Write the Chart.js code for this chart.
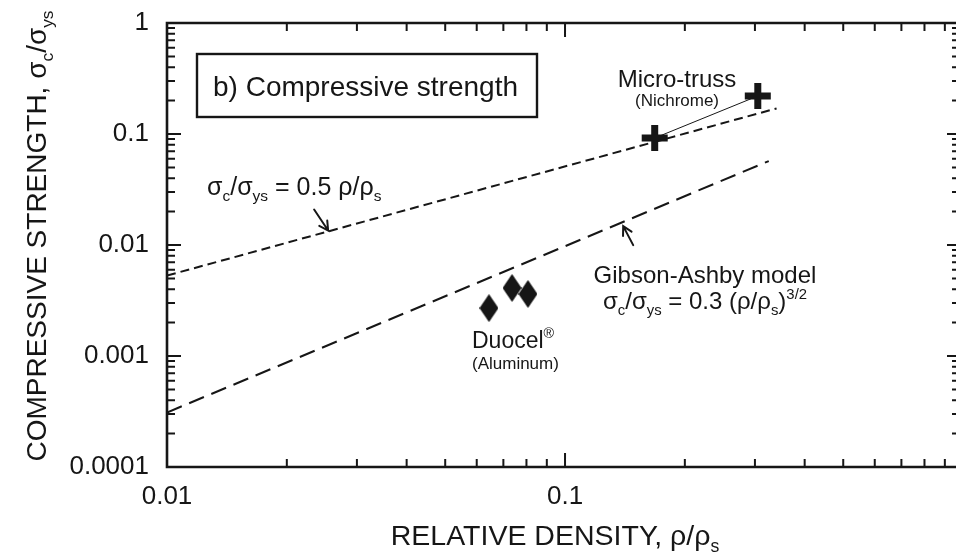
<!DOCTYPE html>
<html><head><meta charset="utf-8">
<script src="https://cdn.jsdelivr.net/npm/chart.js@4/dist/chart.umd.min.js"></script>
<style>html,body{margin:0;padding:0;background:#fff;overflow:hidden}canvas{display:block}</style>
</head><body>
<canvas id="c" width="956" height="552" style="width:956px;height:552px"></canvas>
<script>
// ---- data ----
const xTickValues = [0.01, 0.1];
const xTickLabels = ['0.01', '0.1'];
const yTickValues = [0.0001, 0.001, 0.01, 0.1, 1];
const yTickLabels = ['0.0001', '0.001', '0.01', '0.1', '1'];
const xMin = 0.01, xMax = 0.96, yMin = 0.0001, yMax = 1;
const linearModelX = [0.01, 0.34];
const linearModelY = [0.0053, 0.17];
const gibsonModelX = [0.01, 0.325];
const gibsonModelY = [0.00031, 0.057];
const microTrussX = [0.168, 0.305];
const microTrussY = [0.092, 0.22];
const duocelX = [0.0644, 0.0736, 0.0807];
const duocelY = [0.0027, 0.0041, 0.00362];
const arrow1Tip = [0.0254, 0.0135];
const arrow2Tip = [0.14, 0.0148];

const INK = '#161616';
const FONT = '"Liberation Sans", Arial, Helvetica, sans-serif';
const pts = (xs, ys) => xs.map((x, i) => ({x, y: ys[i]}));

function makeDiamond(w, h) {
  const c = document.createElement('canvas');
  c.width = w; c.height = h;
  const g = c.getContext('2d');
  g.fillStyle = INK;
  g.beginPath();
  g.moveTo(w / 2, 0); g.lineTo(w, h / 2); g.lineTo(w / 2, h); g.lineTo(0, h / 2);
  g.closePath(); g.fill();
  return c;
}
const diamond = makeDiamond(19, 28);

function richWidth(ctx, segs, size) {
  let w = 0;
  for (const [t, m] of segs) {
    const s = m ? size * 0.62 : size;
    ctx.font = s + 'px ' + FONT;
    w += ctx.measureText(t).width;
  }
  return w;
}
function drawRich(ctx, segs, x, y, size, align) {
  const w = richWidth(ctx, segs, size);
  let cx = align === 'center' ? x - w / 2 : (align === 'right' ? x - w : x);
  ctx.textBaseline = 'alphabetic';
  ctx.textAlign = 'left';
  ctx.fillStyle = INK;
  for (const [t, m] of segs) {
    const s = m ? size * 0.62 : size;
    ctx.font = s + 'px ' + FONT;
    const dy = m === 'sub' ? size * 0.25 : (m === 'sup' ? -size * 0.42 : 0);
    ctx.fillText(t, cx, y + dy);
    cx += ctx.measureText(t).width;
  }
}

const framePlugin = {
  id: 'frame',
  beforeDatasetsDraw(chart) {
    const ctx = chart.ctx, a = chart.chartArea;
    const xs = chart.scales.x, ys = chart.scales.y;
    ctx.save();
    ctx.strokeStyle = INK;
    ctx.lineWidth = 2.6;
    ctx.lineCap = 'square';
    ctx.beginPath();
    ctx.moveTo(a.right + 2, a.top); ctx.lineTo(a.left, a.top);
    ctx.lineTo(a.left, a.bottom); ctx.lineTo(a.right + 2, a.bottom);
    ctx.stroke();
    ctx.lineCap = 'butt';
    ctx.lineWidth = 2;
    ctx.beginPath();
    for (let d = -2; d <= 0; d++) {
      for (let k = 1; k <= 9; k++) {
        const v = k * Math.pow(10, d);
        if (v < xMin * 0.999 || v > xMax) continue;
        const p = xs.getPixelForValue(v);
        const L = k === 1 ? 14 : 8;
        ctx.moveTo(p, a.bottom); ctx.lineTo(p, a.bottom - L);
        ctx.moveTo(p, a.top); ctx.lineTo(p, a.top + L);
      }
    }
    for (let d = -4; d <= 0; d++) {
      for (let k = 1; k <= 9; k++) {
        const v = k * Math.pow(10, d);
        if (v < yMin * 0.999 || v > yMax * 1.001) continue;
        const p = ys.getPixelForValue(v);
        const L = k === 1 ? 14 : 8;
        ctx.moveTo(a.left, p); ctx.lineTo(a.left + L, p);
        ctx.moveTo(a.right, p); ctx.lineTo(a.right - (k === 1 ? 9 : 4), p);
      }
    }
    ctx.stroke();
    ctx.restore();
  },
  afterDatasetsDraw(chart) {
    const ctx = chart.ctx, a = chart.chartArea;
    const xs = chart.scales.x, ys = chart.scales.y;
    ctx.save();
    // title box
    ctx.strokeStyle = INK; ctx.lineWidth = 2.4;
    ctx.strokeRect(a.left + 30, a.top + 31, 340, 63);
    drawRich(ctx, [['b) Compressive strength']], a.left + 46, a.top + 73, 28, 'left');
    // Micro-truss labels
    drawRich(ctx, [['Micro-truss']], 677, 87, 24, 'center');
    drawRich(ctx, [['(Nichrome)']], 677, 106, 17, 'center');
    // formula 1
    drawRich(ctx, [['σ'], ['c', 'sub'], ['/σ'], ['ys', 'sub'], [' = 0.5 ρ/ρ'], ['s', 'sub']], 207, 195, 25, 'left');
    // Gibson-Ashby
    drawRich(ctx, [['Gibson-Ashby model']], 705, 283, 24, 'center');
    drawRich(ctx, [['σ'], ['c', 'sub'], ['/σ'], ['ys', 'sub'], [' = 0.3 (ρ/ρ'], ['s', 'sub'], [')'], ['3/2', 'sup']], 705, 309, 24, 'center');
    // Duocel
    drawRich(ctx, [['Duocel'], ['®', 'sup']], 472, 348, 23, 'left');
    drawRich(ctx, [['(Aluminum)']], 472, 369, 17, 'left');
    // arrows
    function arrow(tip, dx, dy) {
      const tx = xs.getPixelForValue(tip[0]), ty = ys.getPixelForValue(tip[1]);
      const sx = tx + dx, sy = ty + dy;
      const ang = Math.atan2(ty - sy, tx - sx);
      ctx.strokeStyle = INK; ctx.lineWidth = 2; ctx.lineCap = 'round';
      ctx.beginPath();
      ctx.moveTo(sx, sy); ctx.lineTo(tx, ty);
      ctx.moveTo(tx - 10 * Math.cos(ang - 0.5), ty - 10 * Math.sin(ang - 0.5));
      ctx.lineTo(tx, ty);
      ctx.lineTo(tx - 10 * Math.cos(ang + 0.5), ty - 10 * Math.sin(ang + 0.5));
      ctx.stroke();
    }
    arrow(arrow1Tip, -14, -21);
    arrow(arrow2Tip, 10, 19);
    // axis titles
    drawRich(ctx, [['RELATIVE DENSITY, ρ/ρ'], ['s', 'sub']], 555, 545, 28.5, 'center');
    ctx.translate(46, 236);
    ctx.rotate(-Math.PI / 2);
    drawRich(ctx, [['COMPRESSIVE STRENGTH, σ'], ['c', 'sub'], ['/σ'], ['ys', 'sub']], 0, 0, 28, 'center');
    ctx.restore();
  }
};

const zeroPad = s => { s.paddingLeft = 0; s.paddingRight = 0; s.paddingTop = 0; s.paddingBottom = 0; };

new Chart(document.getElementById('c'), {
  type: 'scatter',
  data: {
    datasets: [
      {
        data: pts(linearModelX, linearModelY), showLine: true,
        borderColor: INK, borderWidth: 2, borderDash: [9, 5], pointRadius: 0
      },
      {
        data: pts(gibsonModelX, gibsonModelY), showLine: true,
        borderColor: INK, borderWidth: 2, borderDash: [16, 8], pointRadius: 0
      },
      {
        data: pts(microTrussX, microTrussY), showLine: true,
        borderColor: INK, borderWidth: 1,
        pointStyle: 'cross', pointRadius: 13, pointBorderWidth: 7,
        pointBorderColor: INK, pointBackgroundColor: INK
      },
      {
        data: pts(duocelX, duocelY), showLine: false,
        pointStyle: diamond, pointRadius: 14
      }
    ]
  },
  options: {
    responsive: false, animation: false, devicePixelRatio: 1,
    layout: {autoPadding: false, padding: {top: 23, left: 0, right: 0, bottom: 0}},
    plugins: {legend: {display: false}, tooltip: {enabled: false}},
    scales: {
      x: {
        type: 'logarithmic', min: xMin, max: xMax,
        grid: {display: false, drawTicks: false}, border: {display: false},
        afterBuildTicks: s => { s.ticks = xTickValues.map(v => ({value: v, major: true})); },
        afterFit: s => { s.height = 85; zeroPad(s); },
        ticks: {
          autoSkip: false, maxRotation: 0, padding: 14, color: INK,
          font: {size: 26, family: FONT},
          callback: (v, i) => xTickLabels[i]
        }
      },
      y: {
        type: 'logarithmic', min: yMin, max: yMax,
        grid: {display: false, drawTicks: false}, border: {display: false},
        afterBuildTicks: s => { s.ticks = yTickValues.map(v => ({value: v, major: true})); },
        afterFit: s => { s.width = 167; zeroPad(s); },
        ticks: {
          autoSkip: false, padding: 18, color: INK,
          font: {size: 26, family: FONT},
          callback: (v, i) => yTickLabels[i]
        }
      }
    }
  },
  plugins: [framePlugin]
});
</script>
</body></html>
